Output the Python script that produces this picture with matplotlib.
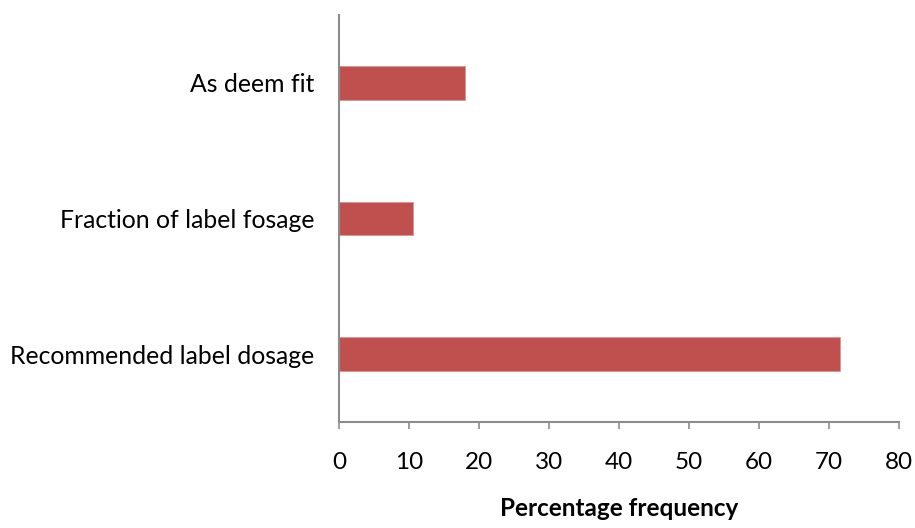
import matplotlib.pyplot as plt

categories = ['Recommended label dosage', 'Fraction of label fosage', 'As deem fit']
values = [71.6, 10.5, 17.9]
xticks = [0, 10, 20, 30, 40, 50, 60, 70, 80]

plt.rcParams['font.family'] = ['Lato', 'DejaVu Sans']

fig = plt.figure(figsize=(9.15, 5.28), dpi=100)
ax = fig.add_axes([0.371, 0.2012, 0.6115, 0.77])

ypos = range(len(categories))
ax.barh(ypos, values, height=0.25, color='#C0504D', edgecolor='#D99694', linewidth=0.6)

ax.set_xlim(0, 80)
ax.set_ylim(-0.5, 2.5)
ax.set_xticks(xticks)
ax.set_xticklabels([str(t) for t in xticks], fontsize=17.5)
ax.set_yticks(list(ypos))
ax.set_yticklabels(categories, fontsize=17.8)

ax.spines['right'].set_color('none')
ax.spines['top'].set_color('none')
ax.spines['left'].set_color('#8C8C8C')
ax.spines['bottom'].set_color('#8C8C8C')
ax.spines['left'].set_linewidth(1.5)
ax.spines['bottom'].set_linewidth(1.5)
ax.tick_params(axis='x', direction='out', length=5, width=1.2, color='#8C8C8C', pad=17)
ax.tick_params(axis='y', length=0, pad=18)

ax.set_xlabel('Percentage frequency', fontsize=17.5, fontweight='bold', labelpad=17)

fig.savefig('out.png', dpi=100)
